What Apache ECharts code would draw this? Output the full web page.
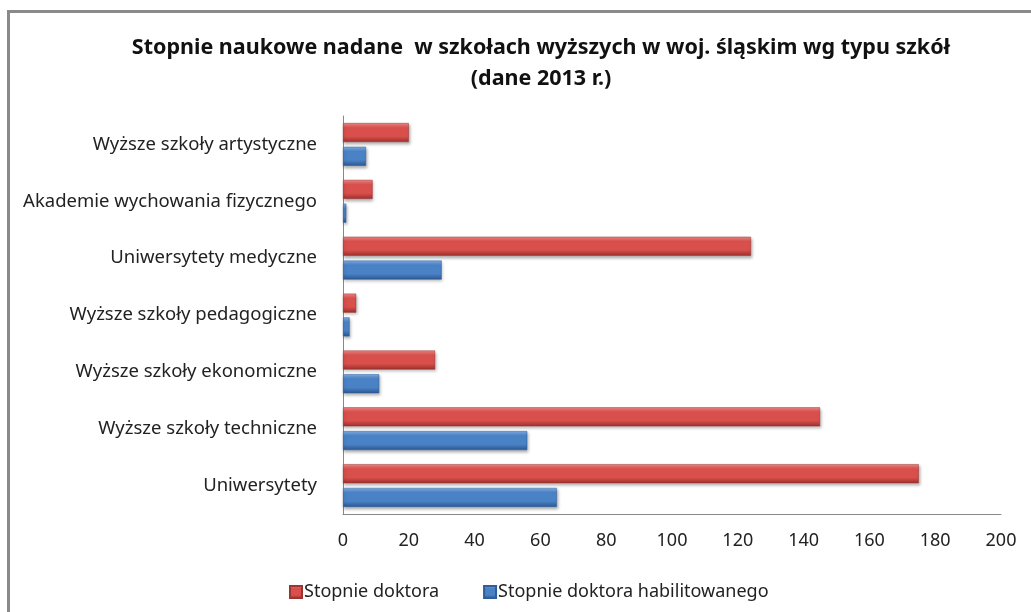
<!DOCTYPE html>
<html>
<head>
<meta charset="utf-8">
<script src="https://cdn.jsdelivr.net/npm/echarts@6/dist/echarts.min.js"></script>
<style>
  html, body { margin: 0; padding: 0; background: #fff; }
  #chart { width: 1031px; height: 612px; }
</style>
</head>
<body>
<div id="chart"></div>
<script>
// categories from bottom to top
const categories = [
  'Uniwersytety',
  'Wyższe szkoły techniczne',
  'Wyższe szkoły ekonomiczne',
  'Wyższe szkoły pedagogiczne',
  'Uniwersytety medyczne',
  'Akademie wychowania fizycznego',
  'Wyższe szkoły artystyczne'
];
const doktorat = [175, 145, 28, 4, 124, 9, 20];
const habilitacja = [65, 56, 11, 2, 30, 1, 7];
const xTicks = [0, 20, 40, 60, 80, 100, 120, 140, 160, 180, 200];

const FONT = '"Noto Sans", sans-serif';

function bevel(top, mid, bottom) {
  return new echarts.graphic.LinearGradient(0, 0, 0, 1, [
    { offset: 0, color: top },
    { offset: 0.25, color: mid },
    { offset: 0.7, color: mid },
    { offset: 1, color: bottom }
  ]);
}

const chart = echarts.init(document.getElementById('chart'));

const option = {
  backgroundColor: '#fff',
  animation: false,
  title: {
    text: 'Stopnie naukowe nadane  w szkołach wyższych w woj. śląskim wg typu szkół\n(dane 2013 r.)',
    left: 536,
    top: 27,
    textAlign: 'center',
    textStyle: {
      fontFamily: FONT,
      fontWeight: 'bold',
      fontSize: 21.5,
      lineHeight: 31,
      color: '#111'
    }
  },
  legend: {
    data: ['Stopnie doktora', 'Stopnie doktora habilitowanego'],
    left: 284,
    top: 578,
    icon: 'rect',
    itemWidth: 12,
    itemHeight: 12,
    itemGap: 44,
    textStyle: { fontFamily: FONT, fontSize: 18, color: '#222', padding: [0, 0, 0, -3] }
  },
  grid: {
    left: 343,
    right: 30,
    top: 116,
    bottom: 98,
    containLabel: false
  },
  xAxis: {
    type: 'value',
    min: 0,
    max: 200,
    interval: 20,
    axisLine: { show: true, lineStyle: { color: '#888', width: 1 } },
    axisTick: { show: false },
    splitLine: { show: false },
    axisLabel: {
      margin: 18,
      fontFamily: FONT,
      fontSize: 18,
      color: '#222',
      formatter: v => (xTicks.includes(v) ? String(v) : '')
    }
  },
  yAxis: {
    type: 'category',
    data: categories,
    axisLine: { show: true, lineStyle: { color: '#888', width: 1 } },
    axisTick: { show: false },
    axisLabel: {
      margin: 26,
      fontFamily: FONT,
      fontSize: 18.5,
      color: '#222'
    }
  },
  series: [
    {
      name: 'Stopnie doktora',
      type: 'bar',
      data: doktorat,
      barWidth: 19,
      barGap: '25%',
      itemStyle: {
        color: bevel('#f58a87', '#d94f4b', '#9c2f2c'),
        borderColor: '#9a3532',
        borderWidth: 0.5,
        shadowColor: 'rgba(0,0,0,0.3)',
        shadowBlur: 3,
        shadowOffsetX: 1,
        shadowOffsetY: 2
      }
    },
    {
      name: 'Stopnie doktora habilitowanego',
      type: 'bar',
      data: habilitacja,
      barWidth: 19,
      barGap: '25%',
      itemStyle: {
        color: bevel('#7fb0ea', '#4a82c6', '#2b5690'),
        borderColor: '#2f5e99',
        borderWidth: 0.5,
        shadowColor: 'rgba(0,0,0,0.3)',
        shadowBlur: 3,
        shadowOffsetX: 1,
        shadowOffsetY: 2
      }
    }
  ],
  graphic: [
    {
      type: 'rect',
      shape: { x: 8.5, y: 11.5, width: 1100, height: 700 },
      style: { fill: 'none', stroke: '#8a8a8a', lineWidth: 3 },
      silent: true
    }
  ]
};

chart.setOption(option);
</script>
</body>
</html>
